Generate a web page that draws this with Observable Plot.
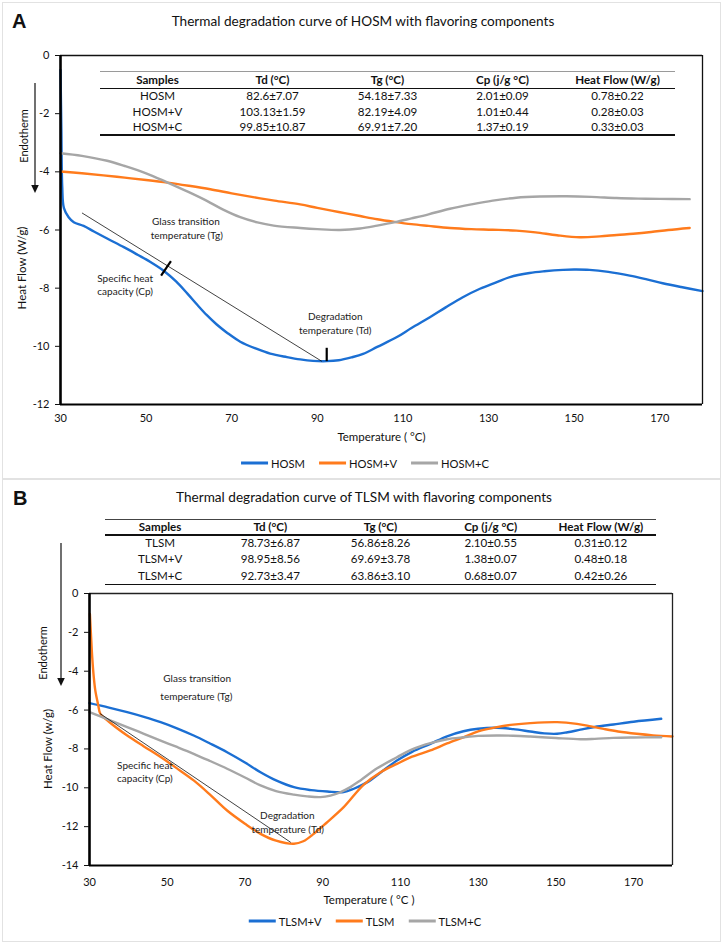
<!DOCTYPE html>
<html><head><meta charset="utf-8">
<script src="https://cdn.jsdelivr.net/npm/d3@7"></script>
<script src="https://cdn.jsdelivr.net/npm/@observablehq/plot@0.6"></script>
<style>
body{margin:0;background:#fff;}
#page{position:relative;width:726px;height:943px;font-family:Lato,sans-serif;color:#111;overflow:hidden;background:#fff}
.panel{position:absolute;border:1.5px solid #e2e2e2;box-sizing:border-box}
.abs{position:absolute;white-space:nowrap;line-height:1}
.c{transform:translate(-50%,-50%)}
.rot{transform:translate(-50%,-50%) rotate(-90deg)}
.ax{font-size:11.5px}
.letter{font-family:"Liberation Sans",Arial,sans-serif;font-weight:bold;font-size:20px;transform:translate(0,-50%)}
.title{font-size:13.6px}
.cell{font-size:11.6px}
.hd{font-weight:bold}
.hline{position:absolute;height:1.5px}
.legend{position:absolute;display:flex;align-items:center;font-size:11.2px;transform:translate(-50%,-50%);white-space:nowrap}
.legend .sw{display:inline-block;width:27px;height:2.5px;margin-right:3px}
.legend .it{display:flex;align-items:center;margin-right:14px}
.legend .it:last-child{margin-right:0}
svg.plot{position:absolute;left:0}
</style>
</head><body>
<div id="page"></div>
<script>
// ---------- data ----------
const xTicks = [30, 50, 70, 90, 110, 130, 150, 170];
const yTicksA = [0, -2, -4, -6, -8, -10, -12];
const yTicksB = [0, -2, -4, -6, -8, -10, -12, -14];

const seriesA = ["HOSM", "HOSM+V", "HOSM+C"];
const seriesB = ["TLSM+V", "TLSM", "TLSM+C"];
const seriesColors = ["#1b6fd3", "#ff7b1c", "#a6a6a6"];
const colorsB = ["#1b6fd3", "#ff7b1c", "#a6a6a6"];

// Panel A curves
const tempHOSM = [30, 30.2, 30.4, 30.8, 31.9, 33.1, 35.4, 37.8, 41, 44.8, 48, 51, 54.1, 57, 59.6, 62, 64.2, 66.5, 68.9, 72, 75.9, 79, 82.9, 86, 89, 92.2, 95, 98, 100.7, 104, 108.5, 112, 116.3, 120, 124, 128, 131.8, 135, 139.6, 143, 147.4, 150, 153.6, 158, 163, 167, 170.7, 175, 180];
const heatHOSM = [-0.5, -2.5, -4.5, -5.25, -5.56, -5.73, -5.86, -6.05, -6.3, -6.59, -6.85, -7.1, -7.4, -7.77, -8.18, -8.58, -8.93, -9.25, -9.53, -9.84, -10.09, -10.25, -10.37, -10.45, -10.5, -10.51, -10.48, -10.38, -10.26, -10.02, -9.69, -9.37, -9.0, -8.66, -8.31, -8.02, -7.8, -7.62, -7.48, -7.42, -7.37, -7.36, -7.37, -7.44, -7.57, -7.7, -7.83, -7.96, -8.1];

const tempHOSMV = [30, 35, 40, 45, 50, 55, 60, 65, 70, 75, 80, 86, 90, 95, 100, 104, 108, 112, 116, 121, 126, 131, 136.5, 141, 146, 151.3, 156, 160, 163.8, 168, 172, 177];
const heatHOSMV = [-3.99, -4.05, -4.12, -4.2, -4.28, -4.37, -4.48, -4.6, -4.74, -4.87, -4.99, -5.12, -5.24, -5.38, -5.52, -5.63, -5.72, -5.8, -5.86, -5.93, -5.97, -5.99, -6.02, -6.08, -6.18, -6.25, -6.22, -6.17, -6.13, -6.07, -6.0, -5.93];

const tempHOSMC = [30, 35, 40.9, 45, 50, 54.9, 60, 64.2, 68, 72, 76, 79.8, 86, 90, 95.3, 100, 104, 108.2, 112, 116, 121, 126, 131, 136.5, 142, 148.2, 154, 159.9, 165, 170, 177];
const heatHOSMC = [-3.36, -3.45, -3.62, -3.8, -4.05, -4.36, -4.7, -5.0, -5.3, -5.56, -5.74, -5.85, -5.93, -5.97, -6.0, -5.95, -5.85, -5.73, -5.6, -5.46, -5.27, -5.12, -4.99, -4.89, -4.85, -4.84, -4.86, -4.9, -4.92, -4.93, -4.94];

// Panel B curves
const tempTLSMV = [30, 35, 39.7, 44, 48.3, 52.5, 56.8, 61, 65.4, 70, 74, 78, 82.6, 87, 91.2, 95.4, 98, 101.5, 105, 109.1, 113, 117.7, 122, 126.2, 130, 134.8, 139, 143.4, 147, 150.3, 153, 156.3, 160, 164.8, 170, 177.1];
const heatTLSMV = [-5.64, -5.87, -6.11, -6.35, -6.62, -6.94, -7.31, -7.72, -8.17, -8.7, -9.2, -9.62, -9.97, -10.12, -10.19, -10.22, -10.05, -9.71, -9.2, -8.6, -8.15, -7.74, -7.35, -7.09, -6.96, -6.91, -6.98, -7.1, -7.2, -7.22, -7.14, -7.01, -6.87, -6.74, -6.6, -6.45];

const tempTLSM = [30.1, 30.4, 30.7, 31.1, 31.5, 32.2, 32.8, 35, 39.7, 44, 48.3, 52.5, 56.8, 61, 65.4, 70, 74, 78, 82.6, 85, 87.7, 91, 95.4, 100.5, 104.9, 109.1, 113, 117.7, 122, 126.2, 130, 134.8, 139, 143.4, 150.3, 155.4, 159, 162.3, 166, 170.8, 175, 180];
const heatTLSM = [-1.05, -2.2, -3.28, -4.3, -5.0, -5.7, -6.19, -6.6, -7.31, -7.87, -8.42, -9.0, -9.62, -10.35, -11.17, -11.85, -12.37, -12.72, -12.88, -12.75, -12.37, -11.8, -11.0, -9.85, -9.2, -8.77, -8.4, -8.08, -7.72, -7.4, -7.1, -6.88, -6.75, -6.67, -6.62, -6.71, -6.84, -6.97, -7.1, -7.22, -7.3, -7.36];

const tempTLSMC = [30, 35, 39.7, 44, 48.3, 52.5, 56.8, 61, 65.4, 70, 74, 78, 82.6, 86, 89.4, 92, 94.6, 97, 99.7, 104, 109.1, 113, 117.7, 122, 126.2, 130, 134.8, 139, 143.4, 150, 156.3, 160, 164.8, 170, 177.1];
const heatTLSMC = [-6.11, -6.5, -6.88, -7.22, -7.57, -7.9, -8.25, -8.62, -9.02, -9.47, -9.88, -10.17, -10.35, -10.44, -10.48, -10.4, -10.22, -9.98, -9.62, -9.0, -8.43, -8.02, -7.7, -7.5, -7.4, -7.33, -7.31, -7.32, -7.36, -7.44, -7.5, -7.48, -7.43, -7.41, -7.4];

// Annotation guide lines (tangents and marker ticks)
const tangentTempA = [35.1, 91];
const tangentHeatA = [-5.42, -10.51];
const markTemp1A = [53.5, 92.2];
const markHeat1A = [-7.57, -10.05];
const markTemp2A = [55.8, 92.2];
const markHeat2A = [-7.07, -10.51];
const tangentTempB = [32.8, 81.7];
const tangentHeatB = [-6.19, -12.8];

// Annotation text
const annotTextA = ["Glass transition", "temperature (Tg)", "Specific heat", "capacity (Cp)", "Degradation", "temperature (Td)"];
const annotTempA = [59.3, 59.5, 38.6, 38.6, 94.2, 94.2];
const annotHeatA = [-5.73, -6.19, -7.68, -8.14, -8.98, -9.46];
const annotAnchorA = ["middle", "middle", "start", "start", "middle", "middle"];
const annotTextB = ["Glass transition", "temperature (Tg)", "Specific heat", "capacity (Cp)", "Degradation", "temperature (Td)"];
const annotTempB = [57.7, 57.5, 37.1, 37.1, 80.9, 81.0];
const annotHeatB = [-4.39, -5.30, -8.85, -9.54, -11.46, -12.15];
const annotAnchorB = ["middle", "middle", "start", "start", "middle", "middle"];

// Tables
const tableHeaders = ["Samples", "Td (°C)", "Tg (°C)", "Cp (j/g °C)", "Heat Flow (W/g)"];
const samplesA = ["HOSM", "HOSM+V", "HOSM+C"];
const tdA = ["82.6±7.07", "103.13±1.59", "99.85±10.87"];
const tgA = ["54.18±7.33", "82.19±4.09", "69.91±7.20"];
const cpA = ["2.01±0.09", "1.01±0.44", "1.37±0.19"];
const hfA = ["0.78±0.22", "0.28±0.03", "0.33±0.03"];
const samplesB = ["TLSM", "TLSM+V", "TLSM+C"];
const tdB = ["78.73±6.87", "98.95±8.56", "92.73±3.47"];
const tgB = ["56.86±8.26", "69.69±3.78", "63.86±3.10"];
const cpB = ["2.10±0.55", "1.38±0.07", "0.68±0.07"];
const hfB = ["0.31±0.12", "0.48±0.18", "0.42±0.26"];

// ---------- build ----------
const page = document.getElementById("page");
function add(html, cls, style) {
  const d = document.createElement("div");
  d.className = cls; d.innerHTML = html; Object.assign(d.style, style); page.appendChild(d); return d;
}
add("", "panel", {left: "2px", top: "2px", width: "719px", height: "477px"});
add("", "panel", {left: "2px", top: "479px", width: "719px", height: "463px"});

function rows(temps, heats, name) { return temps.map((t, i) => ({s: name, t, h: heats[i]})); }
function pairs(ts, hs) { return ts.map((t, i) => ({t, h: hs[i]})); }
function annots(txt, ts, hs, an) { return txt.map((text, i) => ({text, t: ts[i], h: hs[i], a: an[i]})); }
const fmt = d => String(d);

const dataA = [
  ...rows(tempHOSM, heatHOSM, seriesA[0]),
  ...rows(tempHOSMV, heatHOSMV, seriesA[1]),
  ...rows(tempHOSMC, heatHOSMC, seriesA[2])
];
const dataB = [
  ...rows(tempTLSMV, heatTLSMV, seriesB[0]),
  ...rows(tempTLSM, heatTLSM, seriesB[1]),
  ...rows(tempTLSMC, heatTLSMC, seriesB[2])
];
const marksA = markTemp1A.map((t, i) => ({x1: t, y1: markHeat1A[i], x2: markTemp2A[i], y2: markHeat2A[i]}));
const annA = annots(annotTextA, annotTempA, annotHeatA, annotAnchorA);
const annB = annots(annotTextB, annotTempB, annotHeatB, annotAnchorB);

function textMarks(arr) {
  return ["start", "middle"].map(anchor => Plot.text(arr.filter(d => d.a === anchor), {x: "t", y: "h", text: "text", textAnchor: anchor, lineAnchor: "middle", fontSize: 10, fill: "#222"}));
}

const plotA = Plot.plot({
  width: 726, height: 480,
  marginTop: 55, marginRight: 24, marginBottom: 76, marginLeft: 60,
  x: {domain: [30, 180]},
  y: {domain: [-12, 0]},
  color: {domain: seriesA, range: seriesColors},
  style: {fontFamily: "Lato, sans-serif", fontSize: "11px", background: "transparent", color: "#111", overflow: "visible"},
  marks: [
    Plot.line(dataA, {x: "t", y: "h", z: "s", stroke: "s", strokeWidth: 2.4, curve: "catmull-rom"}),
    Plot.line(pairs(tangentTempA, tangentHeatA), {x: "t", y: "h", stroke: "#111", strokeWidth: 0.8}),
    Plot.link(marksA, {x1: "x1", y1: "y1", x2: "x2", y2: "y2", stroke: "#000", strokeWidth: 2.2}),
    ...textMarks(annA),
    Plot.ruleY([0], {stroke: "#111", strokeWidth: 1.3}),
    Plot.ruleX([180], {stroke: "#111", strokeWidth: 1.3}),
    Plot.ruleX([30], {stroke: "#000", strokeWidth: 2.6}),
    Plot.ruleY([-12], {stroke: "#000", strokeWidth: 2.2}),
    Plot.axisX({ticks: xTicks, tickSize: 0, tickPadding: 10, label: null, tickFormat: fmt}),
    Plot.axisY({ticks: yTicksA, tickSize: 5, tickPadding: 6, label: null, tickFormat: fmt}),
    Plot.text(["Temperature ( °C)"], {frameAnchor: "bottom", textAnchor: "middle", lineAnchor: "middle", dy: 33, fontSize: 11.5})
  ]
});
plotA.classList.add("plot");
plotA.style.top = "0px";
page.appendChild(plotA);

const plotB = Plot.plot({
  width: 726, height: 463,
  marginTop: 113, marginRight: 54, marginBottom: 78, marginLeft: 89,
  x: {domain: [30, 180]},
  y: {domain: [-14, 0]},
  color: {domain: seriesB, range: colorsB},
  style: {fontFamily: "Lato, sans-serif", fontSize: "11px", background: "transparent", color: "#111", overflow: "visible"},
  marks: [
    Plot.line(dataB, {x: "t", y: "h", z: "s", stroke: "s", strokeWidth: 2.4, curve: "catmull-rom"}),
    Plot.line(pairs(tangentTempB, tangentHeatB), {x: "t", y: "h", stroke: "#111", strokeWidth: 0.8}),
    ...textMarks(annB),
    Plot.ruleY([0], {stroke: "#222", strokeWidth: 1.6}),
    Plot.ruleX([180], {stroke: "#222", strokeWidth: 1.3}),
    Plot.ruleX([30], {stroke: "#000", strokeWidth: 2.6}),
    Plot.ruleY([-14], {stroke: "#000", strokeWidth: 2.2}),
    Plot.axisX({ticks: xTicks, tickSize: 0, tickPadding: 13, label: null, tickFormat: fmt}),
    Plot.axisY({ticks: yTicksB, tickSize: 5, tickPadding: 6, label: null, tickFormat: fmt}),
    Plot.text(["Temperature ( °C )"], {frameAnchor: "bottom", textAnchor: "middle", lineAnchor: "middle", dx: -12, dy: 35, fontSize: 11.5})
  ]
});
plotB.classList.add("plot");
plotB.style.top = "480px";
page.appendChild(plotB);

// rotated axis titles
add("Heat Flow (W/g)", "abs rot ax", {left: "22px", top: "268px"});
add("Endotherm", "abs rot ax", {left: "23px", top: "136px", fontSize: "11px"});
add("Heat Flow (w/g)", "abs rot ax", {left: "48px", top: "749px"});
add("Endotherm", "abs rot ax", {left: "42px", top: "653px", fontSize: "11px"});

// titles and panel letters
add("A", "abs letter", {left: "12px", top: "21px"});
add("B", "abs letter", {left: "13px", top: "498px"});
add("Thermal degradation curve of HOSM with flavoring components", "abs c title", {left: "363px", top: "22px"});
add("Thermal degradation curve of TLSM with flavoring components", "abs c title", {left: "364px", top: "498px"});

// tables
function table(left, width, lineYs, lineColors, rowYs, cols) {
  lineYs.forEach((y, i) => add("", "hline", {left: left + "px", width: width + "px", top: (y - 0.75) + "px", background: lineColors[i]}));
  const cw = width / cols.length;
  cols.forEach((col, j) => {
    col.forEach((txt, r) => {
      add(txt, "abs c cell" + (r === 0 ? " hd" : ""), {left: (left + cw * (j + 0.5)) + "px", top: rowYs[r] + "px"});
    });
  });
}
table(100, 575, [71.7, 88.3, 135], ["#9a9a9a", "#111", "#111"], [80, 96, 111.7, 127.3],
  [[tableHeaders[0], ...samplesA], [tableHeaders[1], ...tdA], [tableHeaders[2], ...tgA], [tableHeaders[3], ...cpA], [tableHeaders[4], ...hfA]]);
table(105, 551, [519.3, 535, 584.3], ["#444", "#111", "#111"], [527, 542.5, 559.3, 575.7],
  [[tableHeaders[0], ...samplesB], [tableHeaders[1], ...tdB], [tableHeaders[2], ...tgB], [tableHeaders[3], ...cpB], [tableHeaders[4], ...hfB]]);

// endotherm arrows
function arrow(x, y1, y2) {
  const ns = "http://www.w3.org/2000/svg";
  const s = document.createElementNS(ns, "svg");
  s.setAttribute("width", 12); s.setAttribute("height", y2 - y1 + 2);
  Object.assign(s.style, {position: "absolute", left: (x - 6) + "px", top: y1 + "px", overflow: "visible"});
  const h = y2 - y1;
  s.innerHTML = `<line x1="6" y1="0" x2="6" y2="${h - 7}" stroke="#111" stroke-width="1.2"/><path d="M2.2,${h - 8} L9.8,${h - 8} L6,${h} Z" fill="#111"/>`;
  page.appendChild(s);
}
arrow(35, 83, 193);
arrow(61, 543, 686);

// legends
function legend(names, colors, cx, cy) {
  const html = names.map((n, i) => `<span class="it"><span class="sw" style="background:${colors[i]}"></span>${n}</span>`).join("");
  add(html, "legend", {left: cx + "px", top: cy + "px"});
}
legend(seriesA, seriesColors, 365, 463);
legend(seriesB, colorsB, 365, 921);
</script>
</body></html>
